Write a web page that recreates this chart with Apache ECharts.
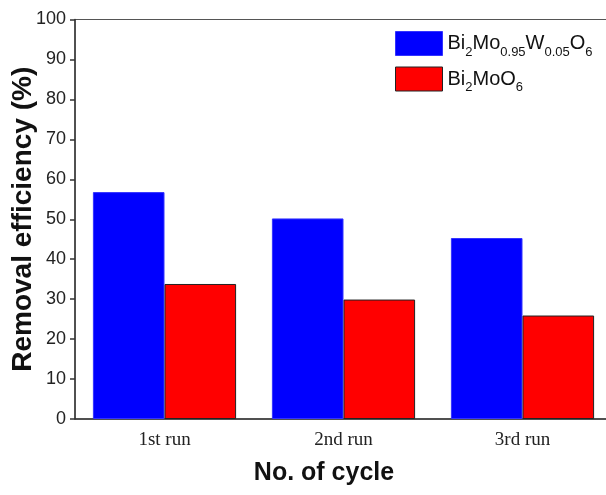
<!DOCTYPE html>
<html>
<head>
<meta charset="utf-8">
<script src="https://cdn.jsdelivr.net/npm/echarts@6/dist/echarts.min.js"></script>
<style>html,body{margin:0;padding:0;background:#fff;}#c{width:606px;height:495px;}</style>
</head>
<body>
<div id="c"></div>
<script>
var categories = ['1st run', '2nd run', '3rd run'];
var seriesNames = ['Bi2Mo0.95W0.05O6', 'Bi2MoO6'];
var dopedValues = [56.8, 50.2, 45.3];
var pureValues = [33.8, 29.9, 25.9];
var yTicks = [0, 10, 20, 30, 40, 50, 60, 70, 80, 90, 100];

var legendLabels = {
  'Bi2Mo0.95W0.05O6': 'Bi{s|2}Mo{s|0.95}W{s|0.05}O{s|6}',
  'Bi2MoO6': 'Bi{s|2}MoO{s|6}'
};

var chart = echarts.init(document.getElementById('c'), null, {renderer: 'canvas'});
chart.setOption({
  backgroundColor: '#ffffff',
  animation: false,
  grid: {left: 75, top: 19.5, bottom: 76, right: -6, outerBoundsMode: 'none', containLabel: false,
    show: true, borderColor: '#555', borderWidth: 1, backgroundColor: 'transparent'},
  legend: {
    left: 395, top: 31, padding: 0, orient: 'vertical', align: 'left', icon: 'rect',
    itemWidth: 47, itemHeight: 24, itemGap: 8,
    data: [
      {name: seriesNames[0], itemStyle: {borderColor: '#3333ff', borderWidth: 1}},
      {name: seriesNames[1], itemStyle: {borderColor: '#222', borderWidth: 1}}
    ],
    formatter: function (n) { return legendLabels[n]; },
    textStyle: {
      fontFamily: 'Liberation Sans, Arial', fontSize: 20, color: '#111', lineHeight: 24,
      verticalAlign: 'bottom',
      rich: {
        s: {fontFamily: 'Liberation Sans, Arial', fontSize: 13, color: '#111', lineHeight: 10, verticalAlign: 'bottom', padding: [0, 0, -3, 0]}
      }
    }
  },
  xAxis: [{
    type: 'category', data: categories,
    axisLine: {lineStyle: {color: '#333', width: 1.5}},
    axisTick: {alignWithLabel: true, length: 7, lineStyle: {color: '#333', width: 1.5}},
    axisLabel: {fontFamily: 'Liberation Serif, Times New Roman', fontSize: 19, color: '#222', margin: 12},
    name: 'No. of cycle', nameLocation: 'middle', nameGap: 42, nameMoveOverlap: false,
    nameTextStyle: {fontFamily: 'Liberation Sans, Arial', fontWeight: 'bold', fontSize: 25, color: '#111', padding: [0, 39, 0, 0]}
  }, {
    type: 'category', data: categories, position: 'bottom',
    axisLine: {show: false},
    axisTick: {length: 4, lineStyle: {color: '#333', width: 1.5}},
    axisLabel: {show: false}
  }],
  yAxis: {
    type: 'value', min: 0, max: 100, interval: 10,
    axisLine: {show: true, lineStyle: {color: '#333', width: 1.5}},
    axisTick: {show: true, length: 5, lineStyle: {color: '#333', width: 1.5}},
    splitLine: {show: false},
    axisLabel: {fontFamily: 'Liberation Sans, Arial', fontSize: 18, color: '#222', margin: 9,
      formatter: function (v) { return yTicks.indexOf(v) >= 0 ? String(v) : ''; }},
    name: 'Removal efficiency (%)', nameLocation: 'middle', nameGap: 38, nameMoveOverlap: false,
    nameTextStyle: {fontFamily: 'Liberation Sans, Arial', fontWeight: 'bold', fontSize: 28, color: '#111'}
  },
  series: [{
    name: seriesNames[0], type: 'bar', data: dopedValues, xAxisIndex: 0,
    barGap: '0%', barCategoryGap: '20%',
    itemStyle: {color: '#0000ff', borderColor: '#3333ff', borderWidth: 1}
  }, {
    name: seriesNames[1], type: 'bar', data: pureValues, xAxisIndex: 0,
    barGap: '0%', barCategoryGap: '20%',
    itemStyle: {color: '#ff0000', borderColor: '#222', borderWidth: 1}
  }]
});
</script>
</body>
</html>
